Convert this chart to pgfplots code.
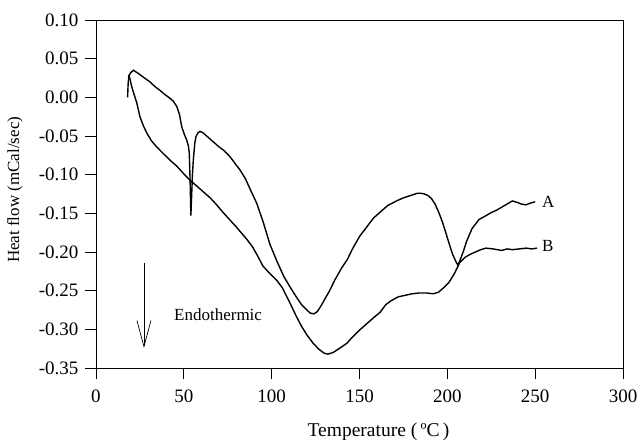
\documentclass[border=0pt]{standalone}
\usepackage{fontspec}
\setmainfont{Liberation Serif}
\usepackage{pgfplots}
\pgfplotsset{compat=1.18}
\usepackage{pgfplotstable}
\usetikzlibrary{arrows.meta}
\pgfplotstableread{
x y
18 0.000
18.3 0.018
18.8 0.028
19.8 0.032
21.3 0.035
24 0.031
27 0.026
30.7 0.020
33.5 0.014
36.4 0.009
39 0.004
42 -0.001
44 -0.005
46 -0.012
47.5 -0.022
48.8 -0.038
50.3 -0.048
51.6 -0.055
52.6 -0.063
53.1 -0.072
53.6 -0.110
54.0 -0.153
54.4 -0.130
54.9 -0.100
55.4 -0.081
56.2 -0.060
56.9 -0.051
58 -0.046
59.2 -0.044
61 -0.046
64 -0.052
67 -0.058
70 -0.064
72.4 -0.068
76 -0.076
79 -0.085
82 -0.094
85 -0.105
88 -0.120
91.5 -0.137
95 -0.160
99 -0.190
103 -0.212
107 -0.232
110.4 -0.245
114 -0.258
117 -0.268
120 -0.275
122 -0.279
124 -0.280
126 -0.277
128 -0.270
130 -0.262
133 -0.250
136 -0.236
140 -0.220
143 -0.210
146 -0.196
150 -0.180
154 -0.168
158 -0.156
162 -0.148
166 -0.140
171 -0.134
175 -0.130
179 -0.127
183 -0.124
185 -0.124
187 -0.125
189 -0.127
191 -0.131
193 -0.138
195 -0.148
197 -0.160
199 -0.174
201 -0.189
203 -0.203
205 -0.213
206 -0.217
207 -0.212
209 -0.200
211 -0.186
214 -0.170
218 -0.158
222 -0.153
225 -0.149
228 -0.146
231 -0.142
234 -0.138
237 -0.134
240 -0.136
242 -0.138
244.8 -0.139
247 -0.137
250 -0.135
}\curveA
\pgfplotstableread{
x y
18.5 0.029
19.2 0.025
20.3 0.014
21.8 0.003
23.2 -0.007
25 -0.025
27 -0.037
28.9 -0.046
31.5 -0.056
34.5 -0.064
38 -0.072
42 -0.081
46 -0.089
50 -0.099
53.5 -0.107
57 -0.114
61 -0.122
65 -0.130
68.7 -0.139
72 -0.148
76 -0.158
80 -0.168
83 -0.176
86 -0.184
89 -0.193
92 -0.205
95 -0.218
99 -0.228
103 -0.237
106 -0.246
110 -0.264
114 -0.283
117 -0.296
120 -0.307
123.6 -0.318
127 -0.326
130 -0.331
132 -0.332
135 -0.330
139 -0.324
142.8 -0.318
146 -0.310
150 -0.301
154 -0.293
158 -0.285
161.7 -0.278
165 -0.268
168 -0.263
172 -0.258
176 -0.256
180 -0.254
184 -0.253
188 -0.253
192 -0.254
195 -0.252
198 -0.246
201 -0.239
204 -0.228
207 -0.214
210 -0.207
213 -0.203
216 -0.200
219 -0.197
222 -0.195
226 -0.196
231 -0.198
234 -0.196
237 -0.197
241 -0.196
245 -0.195
248 -0.196
251 -0.195
}\curveB
\begin{document}
\begin{tikzpicture}
\begin{axis}[
  scale only axis,
  width=527pt, height=348pt,
  xmin=0, xmax=300, ymin=-0.35, ymax=0.10,
  xtick={0,50,...,300},
  ytick={-0.35,-0.30,...,0.10},
  xtick pos=bottom, ytick pos=left,
  tick align=outside,
  major tick length=11pt,
  axis line style={line width=0.8pt},
  every tick/.style={black, line width=0.8pt},
  /pgf/number format/assume math mode=true,
  yticklabel style={xshift=-3pt, /pgf/number format/.cd, fixed, fixed zerofill, precision=2},
  xticklabel style={yshift=-7pt},
  scaled y ticks=false,
  ticklabel style={font=\fontsize{19}{21}\selectfont},
  xlabel={Temperature (\,ºC\,)},
  ylabel={Heat flow (mCal/sec)},
  xlabel style={font=\fontsize{19.5}{21}\selectfont, at={(axis description cs:0.536,0)}, anchor=base, yshift=-68pt},
  ylabel style={font=\fontsize{17}{20}\selectfont, at={(axis description cs:-0.1537,0.512)}, anchor=center},
]
\addplot[black, line width=1.4pt] table[x=x,y=y] {\curveA};
\addplot[black, line width=1.4pt] table[x=x,y=y] {\curveB};
\node[anchor=west, inner sep=0pt, font=\fontsize{17}{20}\selectfont] at (axis cs:253.9,-0.1354) {A};
\node[anchor=west, inner sep=0pt, font=\fontsize{17}{20}\selectfont] at (axis cs:253.9,-0.1923) {B};
\node[anchor=west, inner sep=0pt, font=\fontsize{17}{20}\selectfont] at (axis cs:44.4,-0.2815) {Endothermic};
\draw[-{Straight Barb[length=26pt,width=14pt]}, line width=0.7pt] (axis cs:27.3,-0.214) -- (axis cs:27.3,-0.324);
\end{axis}
\pgfresetboundingbox
\path[use as bounding box] (current axis.south west) ++(-96pt,-71pt) rectangle ++(639pt,439pt);
\end{tikzpicture}
\end{document}
